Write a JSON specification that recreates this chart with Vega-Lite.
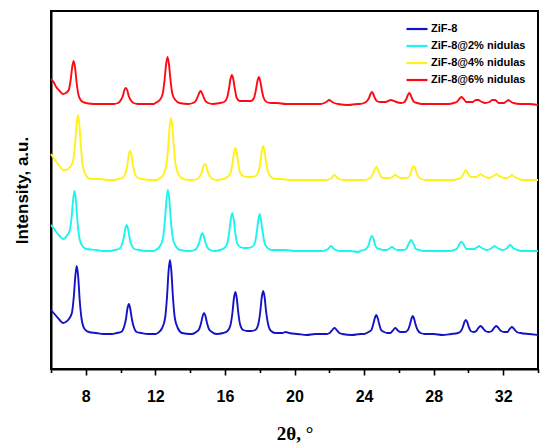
{
  "$schema": "https://vega.github.io/schema/vega-lite/v6.json",
  "width": 487,
  "height": 358,
  "autosize": "none",
  "padding": {"left": 51, "top": 11, "right": 12, "bottom": 78},
  "background": "white",
  "datasets": {
    "zif8": [
      {"x":6.0,"y":59},{"x":6.15,"y":56},{"x":6.3,"y":53},{"x":6.5,"y":49},{"x":6.7,"y":46},{"x":6.85,"y":47},
      {"x":7.03,"y":50},{"x":7.2,"y":56},{"x":7.31,"y":72},{"x":7.4,"y":93},{"x":7.48,"y":103},{"x":7.56,"y":93},{"x":7.65,"y":69},{"x":7.76,"y":50},{"x":7.93,"y":40},{"x":8.18,"y":37},
      {"x":8.6,"y":36},{"x":9.0,"y":35},{"x":9.5,"y":35},
      {"x":9.78,"y":36},{"x":10.03,"y":37},{"x":10.2,"y":42},{"x":10.31,"y":50},{"x":10.4,"y":61},{"x":10.48,"y":65},{"x":10.56,"y":60},{"x":10.65,"y":50},{"x":10.76,"y":42},{"x":10.93,"y":37},{"x":11.18,"y":36},
      {"x":11.6,"y":35},{"x":12.0,"y":35},
      {"x":12.14,"y":36},{"x":12.39,"y":41},{"x":12.56,"y":51},{"x":12.67,"y":72},{"x":12.76,"y":98},{"x":12.84,"y":109},{"x":12.92,"y":98},{"x":13.01,"y":72},{"x":13.12,"y":51},{"x":13.29,"y":41},{"x":13.54,"y":36},
      {"x":14.0,"y":35},
      {"x":14.1,"y":35},{"x":14.35,"y":37},{"x":14.52,"y":40},{"x":14.63,"y":46},{"x":14.72,"y":53},{"x":14.8,"y":56},{"x":14.88,"y":53},{"x":14.97,"y":46},{"x":15.08,"y":40},{"x":15.25,"y":37},{"x":15.5,"y":35},
      {"x":15.9,"y":36},{"x":16.15,"y":38},{"x":16.32,"y":44},{"x":16.43,"y":56},{"x":16.52,"y":71},{"x":16.6,"y":77},{"x":16.68,"y":71},{"x":16.77,"y":56},{"x":16.88,"y":44},{"x":17.05,"y":39},{"x":17.3,"y":38},
      {"x":17.5,"y":38},
      {"x":17.75,"y":39},{"x":17.92,"y":45},{"x":18.03,"y":57},{"x":18.12,"y":72},{"x":18.2,"y":78},{"x":18.28,"y":72},{"x":18.37,"y":57},{"x":18.48,"y":45},{"x":18.65,"y":38},{"x":18.9,"y":36},
      {"x":19.3,"y":36},{"x":19.5,"y":37},{"x":19.7,"y":36},{"x":20.2,"y":35},{"x":20.7,"y":34},{"x":21.2,"y":35},{"x":21.6,"y":35},
      {"x":21.85,"y":35},{"x":22.02,"y":36},{"x":22.13,"y":38},{"x":22.3,"y":41},{"x":22.47,"y":38},{"x":22.58,"y":36},{"x":22.75,"y":35},
      {"x":23.3,"y":34},{"x":23.8,"y":35},
      {"x":24.0,"y":35},{"x":24.25,"y":37},{"x":24.42,"y":39},{"x":24.53,"y":45},{"x":24.62,"y":51},{"x":24.7,"y":54},{"x":24.78,"y":51},{"x":24.87,"y":45},{"x":24.98,"y":39},{"x":25.15,"y":37},{"x":25.35,"y":36},
      {"x":25.5,"y":36},{"x":25.63,"y":38},{"x":25.8,"y":41},{"x":25.97,"y":38},{"x":26.1,"y":37},
      {"x":26.35,"y":37},{"x":26.52,"y":39},{"x":26.63,"y":44},{"x":26.72,"y":50},{"x":26.8,"y":53},{"x":26.88,"y":50},{"x":26.97,"y":44},{"x":27.08,"y":39},{"x":27.25,"y":36},{"x":27.5,"y":35},
      {"x":28.0,"y":35},{"x":28.5,"y":34},{"x":29.0,"y":35},
      {"x":29.4,"y":36},{"x":29.57,"y":38},{"x":29.68,"y":42},{"x":29.77,"y":47},{"x":29.85,"y":49},{"x":29.93,"y":47},{"x":30.02,"y":42},{"x":30.13,"y":38},{"x":30.3,"y":37},
      {"x":30.45,"y":38},{"x":30.53,"y":40},{"x":30.62,"y":42},{"x":30.7,"y":43},{"x":30.78,"y":42},{"x":30.87,"y":40},{"x":30.98,"y":38},{"x":31.15,"y":37},
      {"x":31.35,"y":38},{"x":31.43,"y":40},{"x":31.52,"y":42},{"x":31.6,"y":43},{"x":31.68,"y":42},{"x":31.77,"y":40},{"x":31.88,"y":38},{"x":32.05,"y":37},
      {"x":32.25,"y":37},{"x":32.33,"y":39},{"x":32.42,"y":41},{"x":32.5,"y":42},{"x":32.58,"y":41},{"x":32.67,"y":39},{"x":32.78,"y":37},
      {"x":33.0,"y":36},{"x":33.5,"y":35},{"x":34.0,"y":34}
    ],
    "zif8_2": [
      {"x":6.0,"y":144},{"x":6.15,"y":141},{"x":6.3,"y":137},{"x":6.5,"y":133},{"x":6.7,"y":130},{"x":6.82,"y":131},
      {"x":6.9,"y":133},{"x":7.07,"y":138},{"x":7.18,"y":151},{"x":7.27,"y":169},{"x":7.35,"y":178},{"x":7.43,"y":169},{"x":7.52,"y":148},{"x":7.63,"y":131},{"x":7.8,"y":123},{"x":8.05,"y":120},
      {"x":8.6,"y":119},{"x":9.0,"y":118},{"x":9.4,"y":118},
      {"x":9.65,"y":119},{"x":9.9,"y":120},{"x":10.07,"y":124},{"x":10.18,"y":131},{"x":10.27,"y":140},{"x":10.35,"y":144},{"x":10.43,"y":140},{"x":10.52,"y":131},{"x":10.63,"y":124},{"x":10.8,"y":120},{"x":11.05,"y":119},
      {"x":11.5,"y":118},{"x":11.9,"y":118},
      {"x":12.02,"y":119},{"x":12.27,"y":123},{"x":12.44,"y":131},{"x":12.55,"y":149},{"x":12.64,"y":170},{"x":12.72,"y":179},{"x":12.8,"y":170},{"x":12.89,"y":149},{"x":13.0,"y":131},{"x":13.17,"y":123},{"x":13.42,"y":119},
      {"x":13.9,"y":118},
      {"x":14.0,"y":118},{"x":14.25,"y":119},{"x":14.42,"y":122},{"x":14.53,"y":127},{"x":14.62,"y":133},{"x":14.7,"y":136},{"x":14.78,"y":133},{"x":14.87,"y":127},{"x":14.98,"y":122},{"x":15.15,"y":119},{"x":15.4,"y":118},
      {"x":15.72,"y":119},{"x":15.97,"y":121},{"x":16.14,"y":126},{"x":16.25,"y":137},{"x":16.34,"y":150},{"x":16.42,"y":156},{"x":16.5,"y":150},{"x":16.59,"y":137},{"x":16.7,"y":126},{"x":16.87,"y":122},{"x":17.1,"y":121},
      {"x":17.3,"y":121},
      {"x":17.55,"y":122},{"x":17.72,"y":126},{"x":17.83,"y":137},{"x":17.92,"y":149},{"x":18.0,"y":155},{"x":18.08,"y":149},{"x":18.17,"y":137},{"x":18.28,"y":126},{"x":18.45,"y":121},{"x":18.7,"y":119},
      {"x":19.1,"y":119},{"x":19.5,"y":119},{"x":20.0,"y":118},{"x":20.6,"y":118},{"x":21.2,"y":118},{"x":21.6,"y":118},
      {"x":21.82,"y":119},{"x":21.93,"y":120},{"x":22.1,"y":123},{"x":22.27,"y":120},{"x":22.38,"y":119},{"x":22.6,"y":118},
      {"x":23.2,"y":118},{"x":23.7,"y":117},
      {"x":23.75,"y":118},{"x":24.0,"y":119},{"x":24.17,"y":121},{"x":24.28,"y":125},{"x":24.37,"y":131},{"x":24.45,"y":133},{"x":24.53,"y":131},{"x":24.62,"y":125},{"x":24.73,"y":121},{"x":24.9,"y":120},{"x":25.1,"y":119},
      {"x":25.3,"y":119},{"x":25.43,"y":120},{"x":25.6,"y":122},{"x":25.77,"y":120},{"x":25.9,"y":119},
      {"x":26.25,"y":119},{"x":26.42,"y":120},{"x":26.53,"y":124},{"x":26.62,"y":127},{"x":26.7,"y":129},{"x":26.78,"y":127},{"x":26.87,"y":124},{"x":26.98,"y":120},{"x":27.15,"y":119},{"x":27.4,"y":118},
      {"x":28.0,"y":118},{"x":28.5,"y":118},{"x":29.0,"y":118},
      {"x":29.15,"y":119},{"x":29.32,"y":120},{"x":29.43,"y":123},{"x":29.52,"y":126},{"x":29.6,"y":127},{"x":29.68,"y":126},{"x":29.77,"y":123},{"x":29.88,"y":120},{"x":30.05,"y":120},
      {"x":30.35,"y":120},{"x":30.43,"y":121},{"x":30.52,"y":122},{"x":30.6,"y":123},{"x":30.68,"y":122},{"x":30.77,"y":121},{"x":30.88,"y":120},{"x":31.05,"y":119},
      {"x":31.25,"y":120},{"x":31.33,"y":121},{"x":31.42,"y":122},{"x":31.5,"y":123},{"x":31.58,"y":122},{"x":31.67,"y":121},{"x":31.78,"y":120},{"x":31.95,"y":119},
      {"x":32.15,"y":120},{"x":32.23,"y":121},{"x":32.32,"y":123},{"x":32.4,"y":124},{"x":32.48,"y":123},{"x":32.57,"y":121},{"x":32.68,"y":120},
      {"x":33.0,"y":118},{"x":33.5,"y":118},{"x":34.0,"y":118}
    ],
    "zif8_4": [
      {"x":6.0,"y":215},{"x":6.15,"y":211},{"x":6.3,"y":207},{"x":6.5,"y":203},{"x":6.7,"y":199},{"x":6.85,"y":199},
      {"x":7.1,"y":202},{"x":7.27,"y":208},{"x":7.38,"y":224},{"x":7.47,"y":244},{"x":7.55,"y":254},{"x":7.63,"y":244},{"x":7.72,"y":222},{"x":7.83,"y":203},{"x":8.0,"y":194},{"x":8.25,"y":190},
      {"x":8.8,"y":190},{"x":9.3,"y":189},{"x":9.7,"y":189},
      {"x":9.85,"y":190},{"x":10.1,"y":191},{"x":10.27,"y":195},{"x":10.38,"y":203},{"x":10.47,"y":214},{"x":10.55,"y":218},{"x":10.63,"y":214},{"x":10.72,"y":203},{"x":10.83,"y":195},{"x":11.0,"y":191},{"x":11.25,"y":190},
      {"x":11.7,"y":189},{"x":12.1,"y":189},
      {"x":12.2,"y":190},{"x":12.45,"y":194},{"x":12.62,"y":203},{"x":12.73,"y":220},{"x":12.82,"y":242},{"x":12.9,"y":251},{"x":12.98,"y":242},{"x":13.07,"y":220},{"x":13.18,"y":203},{"x":13.35,"y":194},{"x":13.6,"y":190},
      {"x":14.05,"y":189},
      {"x":14.15,"y":189},{"x":14.4,"y":190},{"x":14.57,"y":193},{"x":14.68,"y":197},{"x":14.77,"y":203},{"x":14.85,"y":205},{"x":14.93,"y":203},{"x":15.02,"y":197},{"x":15.13,"y":193},{"x":15.3,"y":190},{"x":15.55,"y":189},
      {"x":15.9,"y":190},{"x":16.15,"y":192},{"x":16.32,"y":196},{"x":16.43,"y":205},{"x":16.52,"y":216},{"x":16.6,"y":221},{"x":16.68,"y":216},{"x":16.77,"y":205},{"x":16.88,"y":196},{"x":17.05,"y":193},{"x":17.3,"y":192},
      {"x":17.5,"y":192},
      {"x":17.75,"y":193},{"x":17.92,"y":197},{"x":18.03,"y":206},{"x":18.12,"y":218},{"x":18.2,"y":223},{"x":18.28,"y":218},{"x":18.37,"y":206},{"x":18.48,"y":197},{"x":18.65,"y":192},{"x":18.9,"y":190},
      {"x":19.3,"y":190},{"x":19.7,"y":189},{"x":20.2,"y":189},{"x":20.8,"y":189},{"x":21.4,"y":189},{"x":21.8,"y":189},
      {"x":22.02,"y":190},{"x":22.13,"y":191},{"x":22.3,"y":194},{"x":22.47,"y":191},{"x":22.58,"y":190},{"x":22.8,"y":189},
      {"x":23.4,"y":189},{"x":23.9,"y":189},
      {"x":24.0,"y":189},{"x":24.25,"y":190},{"x":24.42,"y":192},{"x":24.53,"y":196},{"x":24.62,"y":200},{"x":24.7,"y":202},{"x":24.78,"y":200},{"x":24.87,"y":196},{"x":24.98,"y":192},{"x":25.15,"y":191},{"x":25.35,"y":191},
      {"x":25.5,"y":191},{"x":25.63,"y":192},{"x":25.8,"y":194},{"x":25.97,"y":192},{"x":26.1,"y":191},
      {"x":26.4,"y":191},{"x":26.57,"y":192},{"x":26.68,"y":196},{"x":26.77,"y":201},{"x":26.85,"y":203},{"x":26.93,"y":201},{"x":27.02,"y":196},{"x":27.13,"y":192},{"x":27.3,"y":190},{"x":27.55,"y":189},
      {"x":28.1,"y":189},{"x":28.6,"y":189},{"x":29.1,"y":189},
      {"x":29.4,"y":190},{"x":29.57,"y":191},{"x":29.68,"y":194},{"x":29.77,"y":197},{"x":29.85,"y":199},{"x":29.93,"y":197},{"x":30.02,"y":194},{"x":30.13,"y":192},{"x":30.3,"y":192},
      {"x":30.45,"y":192},{"x":30.53,"y":193},{"x":30.62,"y":194},{"x":30.7,"y":195},{"x":30.78,"y":194},{"x":30.87,"y":193},{"x":30.98,"y":192},{"x":31.15,"y":191},
      {"x":31.35,"y":192},{"x":31.43,"y":193},{"x":31.52,"y":194},{"x":31.6,"y":195},{"x":31.68,"y":194},{"x":31.77,"y":193},{"x":31.88,"y":192},{"x":32.05,"y":191},
      {"x":32.25,"y":191},{"x":32.33,"y":192},{"x":32.42,"y":193},{"x":32.5,"y":194},{"x":32.58,"y":193},{"x":32.67,"y":192},{"x":32.78,"y":191},
      {"x":33.1,"y":189},{"x":33.6,"y":189},{"x":34.0,"y":189}
    ],
    "zif8_6": [
      {"x":6.0,"y":290},{"x":6.15,"y":287},{"x":6.3,"y":282},{"x":6.5,"y":278},{"x":6.7,"y":275},{"x":6.85,"y":276},
      {"x":7.02,"y":279},{"x":7.13,"y":289},{"x":7.22,"y":302},{"x":7.3,"y":308},{"x":7.38,"y":302},{"x":7.47,"y":287},{"x":7.58,"y":274},{"x":7.75,"y":268},{"x":8.0,"y":266},
      {"x":8.5,"y":265},{"x":9.0,"y":265},{"x":9.4,"y":265},
      {"x":9.6,"y":265},{"x":9.85,"y":266},{"x":10.02,"y":269},{"x":10.13,"y":273},{"x":10.22,"y":279},{"x":10.3,"y":281},{"x":10.38,"y":279},{"x":10.47,"y":273},{"x":10.58,"y":269},{"x":10.75,"y":266},{"x":11.0,"y":265},
      {"x":11.5,"y":265},{"x":11.9,"y":265},
      {"x":12.0,"y":266},{"x":12.25,"y":269},{"x":12.42,"y":275},{"x":12.53,"y":289},{"x":12.62,"y":305},{"x":12.7,"y":312},{"x":12.78,"y":305},{"x":12.87,"y":289},{"x":12.98,"y":275},{"x":13.15,"y":269},{"x":13.4,"y":266},
      {"x":13.9,"y":265},
      {"x":14.15,"y":266},{"x":14.32,"y":268},{"x":14.43,"y":272},{"x":14.52,"y":276},{"x":14.6,"y":278},{"x":14.68,"y":276},{"x":14.77,"y":272},{"x":14.88,"y":268},{"x":15.05,"y":266},{"x":15.3,"y":265},
      {"x":15.7,"y":266},{"x":15.95,"y":267},{"x":16.12,"y":271},{"x":16.23,"y":280},{"x":16.32,"y":290},{"x":16.4,"y":294},{"x":16.48,"y":290},{"x":16.57,"y":280},{"x":16.68,"y":271},{"x":16.85,"y":268},{"x":17.1,"y":268},
      {"x":17.3,"y":268},
      {"x":17.5,"y":268},{"x":17.67,"y":271},{"x":17.78,"y":279},{"x":17.87,"y":288},{"x":17.95,"y":292},{"x":18.03,"y":288},{"x":18.12,"y":279},{"x":18.23,"y":271},{"x":18.4,"y":267},{"x":18.65,"y":266},
      {"x":19.0,"y":266},{"x":19.5,"y":265},{"x":20.0,"y":265},{"x":20.6,"y":265},{"x":21.1,"y":265},{"x":21.5,"y":265},
      {"x":21.72,"y":266},{"x":21.83,"y":267},{"x":22.0,"y":269},{"x":22.17,"y":267},{"x":22.28,"y":266},{"x":22.5,"y":265},
      {"x":23.1,"y":264},{"x":23.6,"y":265},
      {"x":23.75,"y":265},{"x":24.0,"y":266},{"x":24.17,"y":268},{"x":24.28,"y":271},{"x":24.37,"y":275},{"x":24.45,"y":277},{"x":24.53,"y":275},{"x":24.62,"y":271},{"x":24.73,"y":268},{"x":24.9,"y":267},{"x":25.1,"y":267},
      {"x":25.25,"y":267},{"x":25.38,"y":268},{"x":25.55,"y":269},{"x":25.72,"y":268},{"x":25.85,"y":267},
      {"x":26.15,"y":266},{"x":26.32,"y":267},{"x":26.43,"y":270},{"x":26.52,"y":274},{"x":26.6,"y":276},{"x":26.68,"y":274},{"x":26.77,"y":270},{"x":26.88,"y":267},{"x":27.05,"y":266},{"x":27.3,"y":265},
      {"x":27.8,"y":265},{"x":28.3,"y":265},{"x":28.9,"y":265},
      {"x":29.15,"y":266},{"x":29.32,"y":267},{"x":29.43,"y":269},{"x":29.52,"y":271},{"x":29.6,"y":272},{"x":29.68,"y":271},{"x":29.77,"y":269},{"x":29.88,"y":267},{"x":30.05,"y":267},
      {"x":30.25,"y":267},{"x":30.33,"y":268},{"x":30.42,"y":269},{"x":30.5,"y":269},{"x":30.58,"y":269},{"x":30.67,"y":268},{"x":30.78,"y":267},{"x":30.95,"y":266},
      {"x":31.2,"y":267},{"x":31.28,"y":268},{"x":31.37,"y":269},{"x":31.45,"y":269},{"x":31.53,"y":269},{"x":31.62,"y":268},{"x":31.73,"y":266},{"x":31.9,"y":266},
      {"x":32.05,"y":266},{"x":32.13,"y":267},{"x":32.22,"y":268},{"x":32.3,"y":269},{"x":32.38,"y":268},{"x":32.47,"y":267},{"x":32.58,"y":266},
      {"x":33.0,"y":265},{"x":33.5,"y":265},{"x":34.0,"y":264}
    ]
  },
  "encoding": {
    "x": {
      "field": "x",
      "type": "quantitative",
      "scale": {"domain": [6, 34], "nice": false, "zero": false},
      "axis": {
        "title": "2θ, °",
        "values": [6, 8, 10, 12, 14, 16, 18, 20, 22, 24, 26, 28, 30, 32, 34],
        "labelExpr": "datum.value % 4 === 0 ? datum.label : ''",
        "tickSize": {"condition": {"test": "datum.value % 4 === 0", "value": 6}, "value": 3.5},
        "tickWidth": 1.6,
        "tickColor": "black",
        "labelFont": "Liberation Sans",
        "labelFontWeight": "bold",
        "labelFontSize": 16,
        "labelColor": "black",
        "labelPadding": 13,
        "labelFlush": false,
        "grid": false,
        "domainColor": "black",
        "domainWidth": 2,
        "titleFont": "Liberation Serif",
        "titleFontWeight": "bold",
        "titleFontSize": 19,
        "titleColor": "black",
        "titlePadding": 20
      }
    },
    "y": {
      "field": "y",
      "type": "quantitative",
      "scale": {"domain": [0, 358], "nice": false},
      "axis": {
        "title": "Intensity, a.u.",
        "labels": false,
        "ticks": false,
        "grid": false,
        "domainColor": "black",
        "domainWidth": 2,
        "titleFont": "Liberation Sans",
        "titleFontWeight": "bold",
        "titleFontSize": 17,
        "titleColor": "black",
        "titlePadding": 20
      }
    }
  },
  "layer": [
    {"data": {"name": "zif8"}, "mark": {"type": "line", "strokeWidth": 1.9, "interpolate": "monotone"}, "encoding": {"color": {"datum": "ZiF-8"}}},
    {"data": {"name": "zif8_2"}, "mark": {"type": "line", "strokeWidth": 1.9, "interpolate": "monotone"}, "encoding": {"color": {"datum": "ZiF-8@2% nidulas"}}},
    {"data": {"name": "zif8_4"}, "mark": {"type": "line", "strokeWidth": 1.9, "interpolate": "monotone"}, "encoding": {"color": {"datum": "ZiF-8@4% nidulas"}}},
    {"data": {"name": "zif8_6"}, "mark": {"type": "line", "strokeWidth": 1.9, "interpolate": "monotone"}, "encoding": {"color": {"datum": "ZiF-8@6% nidulas"}}}
  ],
  "resolve": {"scale": {"color": "shared"}},
  "config": {
    "view": {"stroke": "black", "strokeWidth": 2},
    "legend": {
      "orient": "none",
      "legendX": 354,
      "legendY": 6,
      "title": null,
      "padding": 0,
      "symbolType": "stroke",
      "symbolSize": 441,
      "symbolStrokeWidth": 2.2,
      "labelFont": "Liberation Sans",
      "labelFontWeight": "bold",
      "labelFontSize": 11,
      "labelColor": "black",
      "labelOffset": 2,
      "rowPadding": -5.5
    },
    "range": {
      "category": ["#1414C4", "#1CF5EE", "#FFF21A", "#FF0A14"]
    }
  }
}
